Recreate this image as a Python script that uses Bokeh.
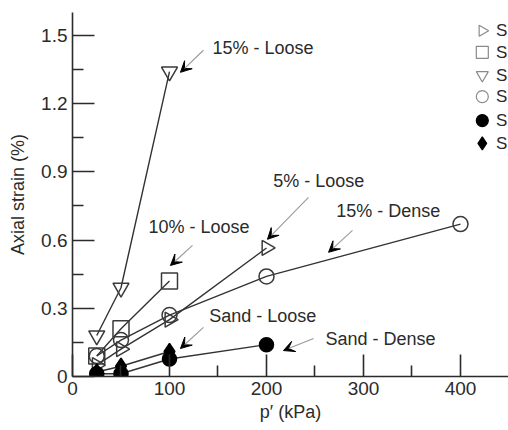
import numpy as np
from bokeh.plotting import figure
from bokeh.models import FixedTicker, Arrow, VeeHead, ColumnDataSource
from bokeh.core.properties import value
from bokeh.embed import file_html
from bokeh.resources import INLINE

# ---- data ----
p_kpa_loose15 = [25, 50, 100]
strain_loose15 = [0.18, 0.39, 1.34]
p_kpa_loose10 = [25, 50, 100]
strain_loose10 = [0.09, 0.21, 0.42]
p_kpa_loose5 = [25, 50, 100, 200]
strain_loose5 = [0.05, 0.12, 0.25, 0.565]
p_kpa_dense15 = [25, 50, 100, 200, 400]
strain_dense15 = [0.09, 0.16, 0.27, 0.44, 0.67]
p_kpa_sand_dense = [25, 50, 100, 200]
strain_sand_dense = [0.012, 0.012, 0.077, 0.14]
p_kpa_sand_loose = [25, 50, 100]
strain_sand_loose = [0.02, 0.045, 0.11]

y_ticks = [0, 0.3, 0.6, 0.9, 1.2, 1.5]
y_tick_labels = ["0", "0.3", "0.6", "0.9", "1.2", "1.5"]
x_ticks = [0, 100, 200, 300, 400]
x_tick_labels = ["0", "100", "200", "300", "400"]

# legend labels are cut off at the figure edge in the reference: only "S" shows
legend_labels = ["S", "S", "S", "S", "S", "S"]
annot_texts = ["15% - Loose", "10% - Loose", "5% - Loose", "15% - Dense", "Sand - Loose", "Sand - Dense"]

FONT = "Liberation Sans"
INK = "#2b2b2b"

p = figure(width=508, height=430, x_range=(0, 449.5), y_range=(0, 1.6),
           min_border_left=72, min_border_right=0, min_border_top=12, min_border_bottom=54,
           output_backend="svg", toolbar_location=None)
p.outline_line_color = None
p.grid.visible = False
p.background_fill_color = "white"
p.border_fill_color = "white"

for ax in (p.xaxis[0], p.yaxis[0]):
    ax.axis_line_color = INK
    ax.axis_line_width = 1.6
    ax.major_tick_line_color = INK
    ax.minor_tick_line_color = INK
    ax.major_tick_line_width = 1.6
    ax.minor_tick_line_width = 1.6
    ax.major_tick_in = 22
    ax.major_tick_out = 0
    ax.minor_tick_in = 11
    ax.minor_tick_out = 0
    ax.major_label_text_font = FONT
    ax.major_label_text_font_size = "19px"
    ax.major_label_text_color = INK
    ax.axis_label_text_font = FONT
    ax.axis_label_text_font_size = "18px"
    ax.axis_label_text_font_style = "normal"
    ax.axis_label_text_color = INK

p.yaxis.ticker = FixedTicker(ticks=y_ticks, minor_ticks=[0.15, 0.45, 0.75, 1.05, 1.35])
p.yaxis.major_label_overrides = {t: l for t, l in zip(y_ticks, y_tick_labels)}
p.yaxis.major_label_standoff = 5
p.yaxis.axis_label = "Axial strain (%)"
p.yaxis.axis_label_standoff = 10
p.xaxis.ticker = FixedTicker(ticks=x_ticks, minor_ticks=[50, 150, 250, 350])
p.xaxis.major_label_overrides = {t: l for t, l in zip(x_ticks, x_tick_labels)}
p.xaxis.major_label_standoff = 5
p.xaxis.axis_label = "p\u2032 (kPa)"
p.xaxis.axis_label_standoff = 4

LINE = "#333333"
MK = "#3a3a3a"
series = [
    (p_kpa_loose5, strain_loose5, "triangle", 15, -np.pi / 2, None),
    (p_kpa_loose10, strain_loose10, "square", 16, 0, None),
    (p_kpa_loose15, strain_loose15, "inverted_triangle", 16, 0, None),
    (p_kpa_dense15, strain_dense15, "circle", 15, 0, None),
    (p_kpa_sand_dense, strain_sand_dense, "circle", 14, 0, "black"),
    (p_kpa_sand_loose, strain_sand_loose, "diamond", 16, 0, "black"),
]
for xs, ys, mk, sz, ang, fill in series:
    p.line(xs, ys, line_color=LINE, line_width=1.4)
for xs, ys, mk, sz, ang, fill in series:
    p.scatter(xs, ys, marker=mk, size=sz, angle=ang,
              line_color=MK if fill is None else "black", line_width=1.5,
              fill_color=fill if fill else "white", fill_alpha=1.0 if fill else 0.0)

# annotation arrows (tail -> head) in data units
arr = ColumnDataSource(dict(
    x0=[135, 123.7, 243.3, 288.7, 135, 248.5],
    y0=[1.434, 0.576, 0.787, 0.642, 0.216, 0.167],
    x1=[111.3, 101, 201, 264, 111.3, 217.5],
    y1=[1.337, 0.488, 0.603, 0.546, 0.123, 0.114],
))
p.add_layout(Arrow(end=VeeHead(size=11, fill_color="black", line_color="black", line_width=1),
                   x_start="x0", y_start="y0", x_end="x1", y_end="y1", source=arr,
                   line_color="#999999", line_width=1.1))

annot_x = [144.3, 78.4, 207, 272, 141, 260.8]
annot_y = [1.443, 0.656, 0.858, 0.726, 0.268, 0.163]
p.text(annot_x, annot_y, text=annot_texts, text_font=value(FONT), text_font_size="18px",
       text_color=INK, text_baseline="middle", text_align="left")

# legend (labels cut off at the right edge in the reference)
leg_y = [1.52, 1.425, 1.325, 1.23, 1.125, 1.025]
leg_markers = ["triangle", "square", "inverted_triangle", "circle", "circle", "diamond"]
leg_angles = [-np.pi / 2, 0, 0, 0, 0, 0]
leg_fill = [None, None, None, None, "black", "black"]
leg_sizes = [11, 12, 12, 12, 12, 13]
for yy, mk, ang, f, sz in zip(leg_y, leg_markers, leg_angles, leg_fill, leg_sizes):
    p.scatter([422.5], [yy], marker=mk, size=sz, angle=ang,
              line_color="#8a8a8a" if f is None else "black", line_width=1.2,
              fill_color=f if f else "white", fill_alpha=1.0 if f else 0.0)
p.text([436.5] * 6, leg_y, text=legend_labels, text_font=value(FONT), text_font_size="17px",
       text_color=INK, text_baseline="middle", text_align="left")

open("out.html", "w").write(file_html(p, INLINE))
